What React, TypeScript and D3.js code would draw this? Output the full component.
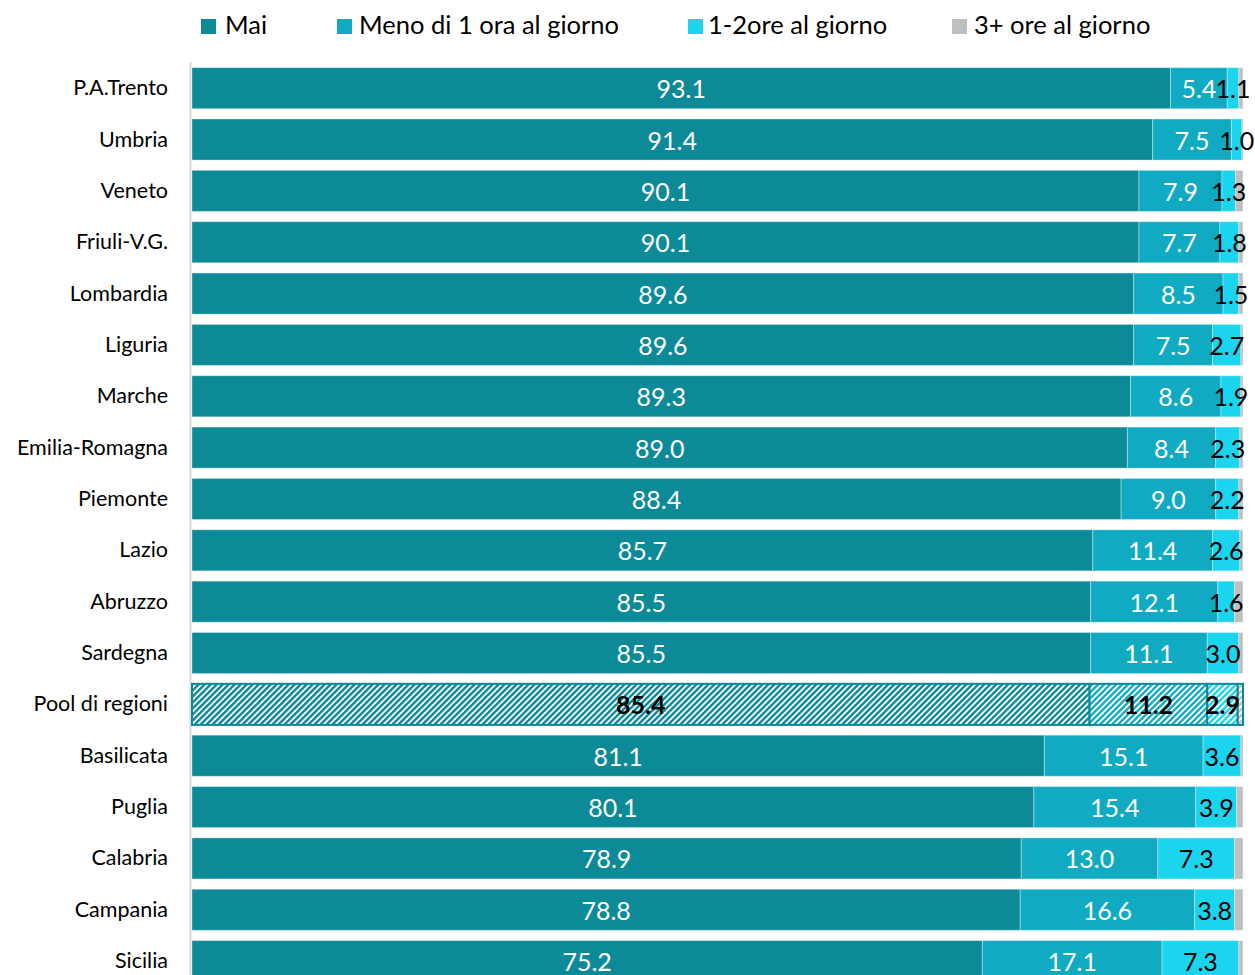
import React from "react";
import * as d3 from "d3";

const regions = ["P.A.Trento","Umbria","Veneto","Friuli-V.G.","Lombardia","Liguria","Marche","Emilia-Romagna","Piemonte","Lazio","Abruzzo","Sardegna","Pool di regioni","Basilicata","Puglia","Calabria","Campania","Sicilia"];
const mai = [93.1,91.4,90.1,90.1,89.6,89.6,89.3,89.0,88.4,85.7,85.5,85.5,85.4,81.1,80.1,78.9,78.8,75.2];
const meno1 = [5.4,7.5,7.9,7.7,8.5,7.5,8.6,8.4,9.0,11.4,12.1,11.1,11.2,15.1,15.4,13.0,16.6,17.1];
const ore12 = [1.1,1.0,1.3,1.8,1.5,2.7,1.9,2.3,2.2,2.6,1.6,3.0,2.9,3.6,3.9,7.3,3.8,7.3];
const ore3 = [0.4,0.1,0.7,0.4,0.4,0.2,0.2,0.3,0.4,0.3,0.8,0.4,0.5,0.2,0.6,0.8,0.8,0.4];
const seriesNames = ["Mai","Meno di 1 ora al giorno","1-2ore al giorno","3+ ore al giorno"];
const colors = ["#0d8a98","#10abc3","#1bd4ee","#bfbfbf"];
const labelColors = ["#ffffff","#ffffff","#000000",""];
const poolName = "Pool di regioni";

export default function App() {
  const W = 1255, H = 975;
  const x = d3.scaleLinear().domain([0, 100]).range([192, 1243]);
  const y = d3.scaleBand().domain(regions).range([62.5, 62.5 + 51.35 * regions.length]).paddingInner(0.2).paddingOuter(0.1);
  const data = [mai, meno1, ore12, ore3];
  const stackData = regions.map((r, i) => ({ r, s0: mai[i], s1: meno1[i], s2: ore12[i], s3: ore3[i] }));
  const stack = d3.stack<any>().keys(["s0","s1","s2","s3"]);
  const layers = stack(stackData);
  const font = "Lato, 'Open Sans', sans-serif";
  const legendX = [201, 337, 688, 952];
  const legendTextX = [225, 359, 708, 974];
  return (
    <svg width={W} height={H} style={{ position: "absolute", left: 0, top: 0, background: "#fff" }} fontFamily={font}>
      <defs>
        {colors.map((c, k) => (
          <pattern key={k} id={`hatch${k}`} patternUnits="userSpaceOnUse" width={4.24} height={4.24} patternTransform="rotate(45)">
            <rect width={4.24} height={4.24} fill="#fff" />
            <rect width={2.4} height={4.24} fill={c} />
          </pattern>
        ))}
      </defs>
      {seriesNames.map((n, k) => (
        <g key={n}>
          <rect x={legendX[k]} y={19} width={15} height={15} fill={colors[k]} />
          <text x={legendTextX[k]} y={34} fontSize={25.5} fill="#000">{n}</text>
        </g>
      ))}
      <line x1={190.5} x2={190.5} y1={62} y2={H} stroke="#d9d9d9" strokeWidth={2} />
      {layers.map((layer, k) => (
        <g key={k}>
          {layer.map((d, i) => {
            const r = regions[i];
            const isPool = r === poolName;
            const x0 = x(d[0]), x1 = x(d[1]);
            const yy = y(r)!;
            return (
              <rect key={r} x={x0} y={yy} width={Math.max(0, x1 - x0)} height={y.bandwidth()}
                fill={isPool ? `url(#hatch${k})` : colors[k]}
                stroke={isPool ? colors[0] : "#ffffff"} strokeOpacity={isPool ? 1 : 0.35} strokeWidth={isPool ? 2 : 1} />
            );
          })}
        </g>
      ))}
      {layers.slice(0, 3).map((layer, k) => (
        <g key={"l" + k}>
          {layer.map((d, i) => {
            const r = regions[i];
            const isPool = r === poolName;
            const cx = (x(d[0]) + x(d[1])) / 2;
            const cy = y(r)! + y.bandwidth() / 2;
            return (
              <text key={r} x={cx} y={cy + 10} textAnchor="middle" fontSize={25}
                fontWeight={isPool ? "bold" : "normal"}
                fill={isPool ? "#000" : labelColors[k]}>{data[k][i].toFixed(1)}</text>
            );
          })}
        </g>
      ))}
      {regions.map((r) => (
        <text key={r} x={168} y={y(r)! + y.bandwidth() / 2 + 7} textAnchor="end" fontSize={21.5} fill="#000">{r}</text>
      ))}
    </svg>
  );
}
